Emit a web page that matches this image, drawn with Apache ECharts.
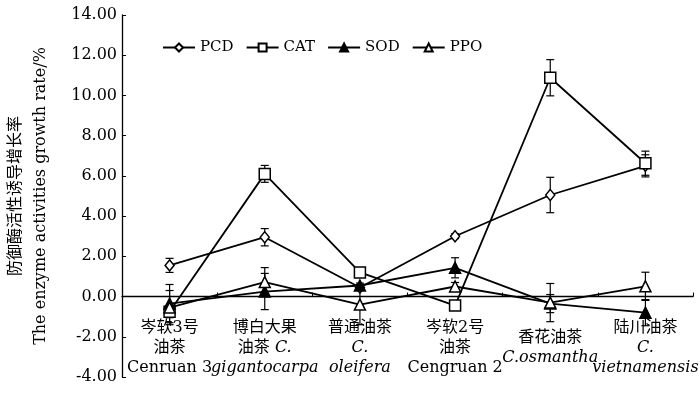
<!DOCTYPE html>
<html>
<head>
<meta charset="utf-8">
<script src="https://cdn.jsdelivr.net/npm/echarts@6/dist/echarts.min.js"></script>
<style>
html,body{margin:0;padding:0;background:#fff;}
#chart{width:700px;height:393px;}
</style>
</head>
<body>
<div id="chart"></div>
<script>
// ---- data ----
const categoriesCn = ["岑软3号\n油茶", "博白大果\n油茶 ", "普通油茶", "岑软2号\n油茶", "香花油茶", "陆川油茶"];
const categoriesLatin = ["Cenruan 3", "C.\ngigantocarpa", "C.\noleifera", "Cengruan 2", "C.osmantha", "C.\nvietnamensis"];
const latinItalic = [false, true, true, false, true, true];
const seriesNames = ["PCD", "CAT", "SOD", "PPO"];
const pcd = [1.55, 2.95, 0.45, 3.0, 5.05, 6.5];
const pcdErr = [0.35, 0.43, 0.1, 0.12, 0.88, 0.55];
const cat = [-0.75, 6.1, 1.2, -0.45, 10.88, 6.63];
const catErr = [0.3, 0.42, 0.05, 0.05, 0.9, 0.6];
const sod = [-0.35, 0.25, 0.55, 1.43, -0.35, -0.8];
const sodErr = [0.95, 0.9, 0.12, 0.5, 0.45, 0.65];
const ppo = [-0.55, 0.72, -0.4, 0.5, -0.3, 0.51];
const ppoErr = [0.85, 0.72, 1.0, 0.2, 0.95, 0.7];
const yTicks = [-4, -2, 0, 2, 4, 6, 8, 10, 12, 14];

const FONT = "'DejaVu Serif', 'Noto Sans CJK SC', serif";
const chart = echarts.init(document.getElementById('chart'), null, {renderer: 'canvas'});

const categoryKeys = categoriesCn.map((c, i) => String(i));
function buildLabel(i) {
  const cnLines = categoriesCn[i].split('\n');
  const laLines = categoriesLatin[i].split('\n');
  let lines = [];
  if (cnLines.length === 2 && cnLines[1].trim() === '油茶' && latinItalic[i]) {
    lines.push(cnLines[0]);
    lines.push(cnLines[1].trim() + ' ' + '{it|' + laLines[0] + '}');
    for (let k = 1; k < laLines.length; k++) lines.push('{it|' + laLines[k] + '}');
  } else {
    cnLines.forEach(l => lines.push(l));
    laLines.forEach(l => lines.push(latinItalic[i] ? '{it|' + l + '}' : l));
  }
  if (lines.length < 3) {
    return '{sp|}\n' + lines.join('\n');
  }
  return lines.join('\n');
}

function errData(vals, errs) {
  return vals.map((v, i) => [i, v - errs[i], v + errs[i]]);
}
function errSeries(vals, errs) {
  return {
    type: 'custom',
    silent: true,
    z: 1,
    data: errData(vals, errs),
    encode: {x: 0, y: [1, 2]},
    renderItem: function (params, api) {
      const i = api.value(0);
      const lo = api.coord([i, api.value(1)]);
      const hi = api.coord([i, api.value(2)]);
      const w = 4;
      const st = {stroke: '#000', lineWidth: 1.2};
      return {
        type: 'group',
        children: [
          {type: 'line', shape: {x1: lo[0], y1: lo[1], x2: hi[0], y2: hi[1]}, style: st},
          {type: 'line', shape: {x1: lo[0] - w, y1: lo[1], x2: lo[0] + w, y2: lo[1]}, style: st},
          {type: 'line', shape: {x1: hi[0] - w, y1: hi[1], x2: hi[0] + w, y2: hi[1]}, style: st}
        ]
      };
    }
  };
}

function lineSeries(name, vals, symbol, filled, size) {
  return {
    name: name,
    type: 'line',
    data: vals,
    z: 3,
    symbol: symbol,
    symbolSize: size,
    showAllSymbol: true,
    lineStyle: {color: '#000', width: 1.8},
    itemStyle: {color: filled ? '#000' : '#fff', borderColor: '#000', borderWidth: 1.5, opacity: 1},
    emphasis: {disabled: true},
    animation: false
  };
}

const option = {
  animation: false,
  backgroundColor: '#fff',
  textStyle: {fontFamily: FONT, color: '#000'},
  legend: {
    data: seriesNames,
    top: 35,
    left: 157,
    itemWidth: 32,
    itemHeight: 10,
    itemGap: 12,
    textStyle: {fontFamily: FONT, fontSize: 15, color: '#000', width: 38}
  },
  grid: {left: 122, right: 7, top: 15, bottom: 16, outerBoundsMode: 'none', containLabel: false},
  xAxis: {
    type: 'category',
    data: categoryKeys,
    boundaryGap: true,
    axisLine: {onZero: true, lineStyle: {color: '#000', width: 1.3}},
    axisTick: {show: true, inside: true, length: 4, lineStyle: {color: '#000'}},
    axisLabel: {
      interval: 0,
      margin: -59,
      color: '#000',
      fontFamily: FONT,
      fontSize: 16,
      lineHeight: 20,
      formatter: function (v, idx) { return buildLabel(idx); },
      rich: {
        it: {fontStyle: 'italic', fontFamily: FONT, fontSize: 16, lineHeight: 20, color: '#000'},
        sp: {lineHeight: 10, fontSize: 10}
      }
    },
    splitLine: {show: false}
  },
  yAxis: {
    type: 'value',
    min: yTicks[0],
    max: yTicks[yTicks.length - 1],
    interval: 2,
    name: '防御酶活性诱导增长率\nThe enzyme activities growth rate/%',
    nameLocation: 'middle',
    nameRotate: 90,
    nameGap: 69,
    nameTextStyle: {fontFamily: FONT, fontSize: 16, lineHeight: 25, color: '#000'},
    axisLine: {show: true, onZero: false, lineStyle: {color: '#000', width: 1.3}},
    axisTick: {show: true, inside: true, length: 4, lineStyle: {color: '#000'}},
    axisLabel: {
      color: '#000', fontFamily: FONT, fontSize: 16, margin: 5,
      formatter: v => v.toFixed(2)
    },
    splitLine: {show: false}
  },
  series: [
    errSeries(pcd, pcdErr),
    errSeries(cat, catErr),
    errSeries(sod, sodErr),
    errSeries(ppo, ppoErr),
    lineSeries('PCD', pcd, 'diamond', false, [9, 11]),
    lineSeries('CAT', cat, 'rect', false, 11),
    lineSeries('SOD', sod, 'triangle', true, 11),
    lineSeries('PPO', ppo, 'triangle', false, 11)
  ]
};
chart.setOption(option);
</script>
</body>
</html>
